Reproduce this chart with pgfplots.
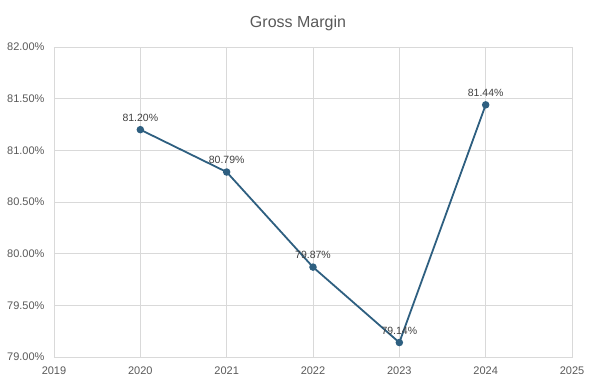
\documentclass[border=0pt]{standalone}
\usepackage{pgfplots}
\pgfplotsset{compat=1.18}
\usepackage{fontspec}
\setmainfont{Liberation Sans}
\definecolor{linec}{HTML}{2E5F80}
\definecolor{gridc}{HTML}{D9D9D9}
\definecolor{textc}{HTML}{595959}
\begin{document}
\begin{tikzpicture}
\begin{axis}[
  scale only axis, width=518pt, height=310pt,
  xmin=2019, xmax=2025, ymin=79, ymax=82,
  xtick={2019,2020,2021,2022,2023,2024,2025},
  ytick={79,79.5,80,80.5,81,81.5,82},
  /pgf/number format/assume math mode=true,
  xticklabel style={/pgf/number format/1000 sep={}, font=\fontsize{11}{13}\selectfont, text=textc, yshift=-6pt},
  yticklabel={\pgfmathprintnumber[fixed,fixed zerofill,precision=2]{\tick}\%},
  yticklabel style={font=\fontsize{11}{13}\selectfont, text=textc, xshift=-6pt},
  grid=major, major grid style={gridc, line width=0.8pt},
  axis line style={gridc, line width=0.8pt},
  tick style={draw=none},
  xtick pos=bottom, ytick pos=left,
  title={Gross Margin},
  title style={font=\fontsize{16}{19}\selectfont, text=textc, yshift=7pt, xshift=-15pt},
  nodes near coords={\pgfmathprintnumber[fixed,fixed zerofill,precision=2]{\pgfplotspointmeta}\%},
  point meta=explicit,
  nodes near coords style={font=\fontsize{10.5}{12}\selectfont, text=black!75, anchor=south, yshift=4pt},
]
\addplot[color=linec, line width=1.8pt, mark=*, mark size=2.8pt, mark options={fill=linec, draw=linec}]
  coordinates {(2020,81.20) [81.20] (2021,80.79) [80.79] (2022,79.87) [79.87] (2023,79.14) [79.14] (2024,81.44) [81.44]};
\end{axis}
\path ([xshift=-54pt,yshift=-33pt]current axis.south west) rectangle ([xshift=22pt,yshift=47pt]current axis.north east);
\end{tikzpicture}
\end{document}
